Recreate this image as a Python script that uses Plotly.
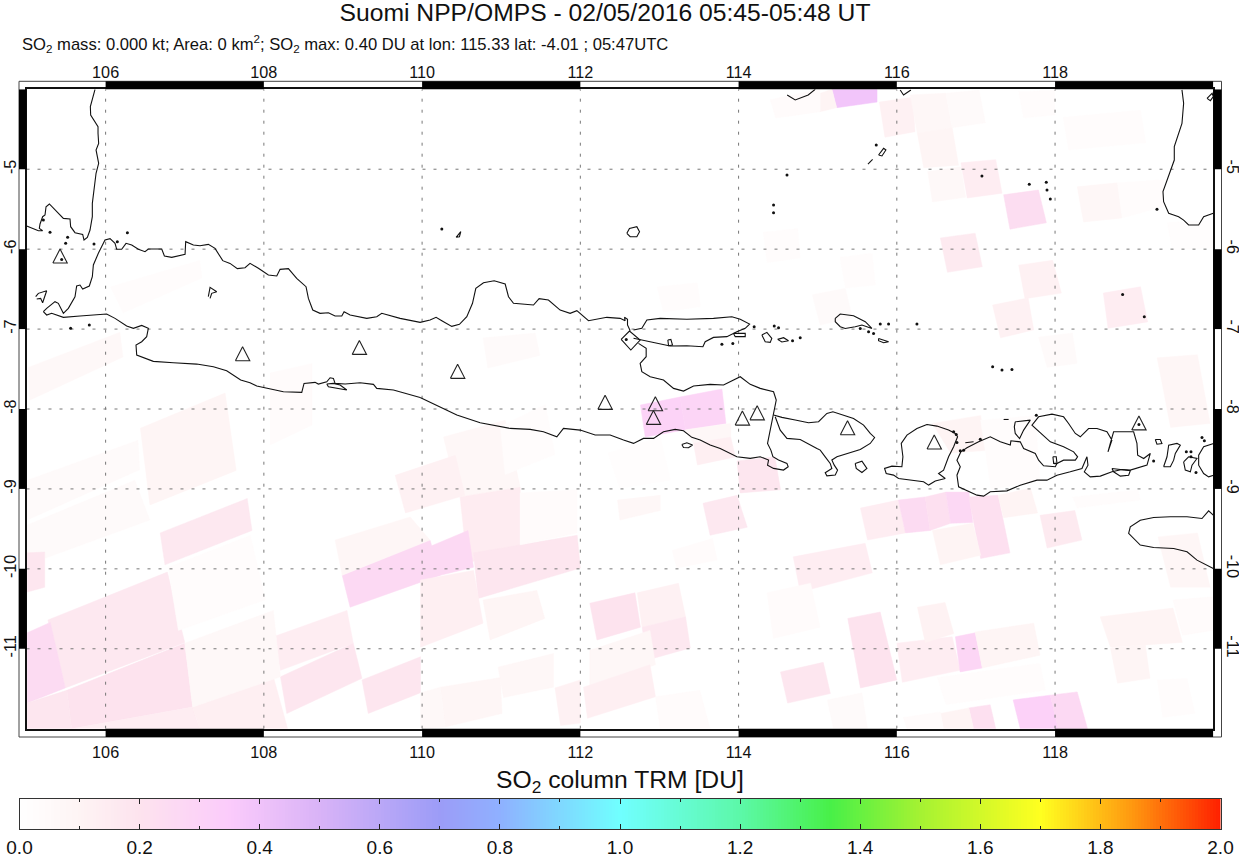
import numpy as np
import plotly.graph_objects as go
from plotly.colors import sample_colorscale

W, H = 1239, 855
FONT = "Liberation Sans"

lon_ticks = [106, 108, 110, 112, 114, 116, 118]
lat_ticks = [-5, -6, -7, -8, -9, -10, -11]
lat_labels = ["-5", "-6", "-7", "-8", "-9", "-10", "-11"]
bar_lon = [(106, 108), (110, 112), (114, 116), (118, 120)]
bar_lat = [(-5, -4), (-7, -6), (-9, -8), (-11, -10)]
so2_ticks = [0.0, 0.2, 0.4, 0.6, 0.8, 1.0, 1.2, 1.4, 1.6, 1.8, 2.0]

so2_scale = [
    [0.0, "rgb(255,255,255)"], [0.05, "rgb(254,244,244)"], [0.1, "rgb(253,227,238)"],
    [0.175, "rgb(251,203,251)"], [0.25, "rgb(217,179,247)"], [0.35, "rgb(156,156,247)"],
    [0.4, "rgb(143,176,255)"], [0.5, "rgb(112,255,255)"], [0.6, "rgb(92,248,168)"],
    [0.675, "rgb(72,240,72)"], [0.75, "rgb(165,242,50)"], [0.85, "rgb(255,255,32)"],
    [0.925, "rgb(255,154,16)"], [1.0, "rgb(255,32,0)"],
]

# retrieval footprints: corners in degrees, SO2 in DU
tile_lon = [
    [105.02,106.18,106.22,105.04],[106.06,107.19,107.22,106.22],[105.01,106.41,106.43,105.01],
    [106.44,107.51,107.65,106.56],[105.01,106.37,106.56,105.01],[106.69,107.79,107.85,106.75],
    [105.01,105.23,105.23,105.01],[105.27,106.78,107.00,105.49],[105.01,105.30,105.49,105.01],
    [105.51,107.00,107.10,105.57],[105.01,105.51,105.57,105.01],[105.57,107.10,107.19,105.57],
    [107.10,108.12,108.30,107.19],[108.12,109.05,109.13,108.21],[108.21,109.13,109.24,108.29],
    [109.24,109.98,109.98,109.32],[108.99,110.10,110.23,109.09],[108.90,109.85,110.10,108.99],
    [110.27,111.05,111.24,110.46],[110.48,111.24,111.24,110.57],[109.98,110.58,110.65,109.98],
    [110.65,111.96,112.00,110.71],[109.98,110.65,110.77,109.98],[110.77,111.45,111.55,110.86],
    [111.24,111.96,111.96,111.24],[112.12,112.69,112.76,112.21],[112.72,113.24,113.33,112.78],
    [112.78,113.33,113.39,112.85],[112.12,112.88,112.95,112.12],[112.04,112.88,112.95,112.09],
    [112.47,113.01,113.01,112.50],[113.55,113.98,114.11,113.64],[113.16,113.67,113.73,113.22],
    [114.69,115.60,115.69,114.78],[114.53,115.07,115.16,114.62],[114.36,114.91,115.03,114.44],
    [111.68,112.00,112.00,111.75],[110.23,110.99,111.01,110.29],[110.96,111.66,111.66,111.03],
    [109.66,110.42,110.54,109.79],[110.77,111.43,111.49,110.83],[110.99,111.56,111.68,111.05],
    [112.35,113.01,113.14,112.50],[112.76,113.26,113.33,112.82],[113.26,113.79,113.84,113.33],
    [113.33,113.90,113.90,113.43],[113.43,113.90,113.96,113.48],[113.98,114.46,114.53,114.02],
    [112.97,113.48,113.52,113.05],[114.31,114.75,114.78,114.36],[114.93,115.35,115.44,115.03],
    [115.18,115.75,115.75,115.24],[115.03,115.18,115.24,115.03],[114.40,115.03,115.03,114.47],
    [115.78,116.20,116.23,115.85],[116.17,116.62,116.70,116.26],[116.62,117.04,117.12,116.70],
    [116.26,116.70,116.78,116.34],[116.39,116.81,116.87,116.45],[116.81,117.25,117.33,116.89],
    [117.35,117.79,117.89,117.43],[116.55,116.99,117.08,116.64],[117.54,117.97,118.08,117.62],
    [118.61,119.08,119.17,118.67],[118.28,118.79,118.85,118.36],[118.79,119.37,119.37,118.85],
    [117.54,118.00,118.00,117.60],[118.10,119.08,119.15,118.17],[115.28,115.69,115.73,115.35],
    [119.42,119.96,120.00,119.48],[117.21,117.66,117.73,117.31],[117.79,118.22,118.28,117.90],
    [119.29,119.80,119.96,119.46],[115.54,116.02,116.11,115.63],[116.02,116.36,116.42,116.11],
    [116.36,116.62,116.68,116.42],[116.62,116.91,116.96,116.68],[116.91,117.28,117.43,117.06],
    [116.45,116.96,117.06,116.55],[117.28,117.69,117.78,117.35],[117.81,118.25,118.34,117.90],
    [119.30,119.80,119.96,119.46],[116.45,117.06,117.12,116.68],[117.06,117.75,117.81,117.19],
    [118.22,119.05,119.08,118.28],[115.38,115.79,116.00,115.54],[116.00,116.70,116.80,116.07],
    [116.74,116.99,117.08,116.80],[116.99,117.73,117.81,117.08],[116.26,116.61,116.72,116.36],
    [118.57,119.49,119.61,118.70],[118.70,119.14,119.20,118.79],[119.29,119.67,119.77,119.36],
    [117.47,117.94,118.04,117.56],[117.94,118.28,118.41,118.04],[116.91,117.18,117.25,116.97],
    [116.55,116.91,116.97,116.59],[116.08,116.55,116.59,116.13],[115.12,115.56,115.63,115.20],
    [116.51,117.81,117.88,116.62],[119.49,119.99,119.99,119.61],[106.79,107.83,108.02,106.92],
    [107.00,108.12,108.21,107.10],[108.08,108.61,108.61,108.08],[109.98,110.23,110.29,109.98],
    [112.95,113.51,113.64,113.01],
]
tile_lat = [
    [-7.48,-7.04,-7.35,-7.89],[-6.47,-6.14,-6.36,-6.80],[-8.89,-8.39,-8.76,-9.39],
    [-8.24,-7.80,-8.77,-9.20],[-9.45,-8.89,-9.39,-9.95],[-9.55,-9.12,-9.52,-9.95],
    [-9.80,-9.79,-10.23,-10.29],[-10.64,-10.04,-10.92,-11.49],[-10.80,-10.67,-11.49,-11.68],
    [-11.52,-10.93,-11.73,-12.00],[-11.68,-11.52,-12.00,-12.00],[-12.00,-11.73,-12.00,-12.00],
    [-11.73,-11.35,-12.00,-12.00],[-10.85,-10.52,-10.93,-11.27],[-11.35,-10.93,-11.37,-11.81],
    [-11.39,-11.10,-11.55,-11.81],[-10.08,-9.64,-10.08,-10.48],[-9.64,-9.35,-9.64,-10.08],
    [-8.35,-8.14,-8.98,-9.10],[-9.10,-8.98,-9.73,-9.93],[-9.77,-9.52,-9.98,-10.14],
    [-9.80,-9.58,-9.99,-10.37],[-10.14,-10.02,-10.68,-10.98],[-10.39,-10.27,-10.62,-10.89],
    [-9.05,-9.01,-9.55,-9.70],[-10.43,-10.30,-10.73,-10.89],[-10.30,-10.18,-10.60,-10.73],
    [-10.73,-10.60,-10.99,-11.14],[-11.02,-10.77,-11.20,-11.48],[-11.48,-11.20,-11.60,-11.87],
    [-9.14,-9.08,-9.27,-9.39],[-9.18,-9.08,-9.48,-9.58],[-9.77,-9.62,-9.89,-9.99],
    [-9.85,-9.68,-10.05,-10.29],[-11.29,-11.17,-11.56,-11.68],[-10.30,-10.18,-10.73,-10.87],
    [-11.49,-11.39,-11.93,-11.96],[-11.48,-11.36,-11.81,-11.98],[-11.23,-11.06,-11.48,-11.61],
    [-8.83,-8.58,-9.08,-9.30],[-7.11,-7.05,-7.33,-7.49],[-8.22,-7.94,-8.57,-8.82],
    [-8.55,-8.35,-8.89,-8.99],[-7.95,-7.85,-8.26,-8.35],[-7.85,-7.75,-8.18,-8.26],
    [-8.26,-8.18,-8.35,-8.43],[-8.43,-8.35,-8.60,-8.70],[-8.65,-8.60,-9.01,-9.05],
    [-6.47,-6.42,-6.72,-6.79],[-5.79,-5.74,-6.11,-6.17],[-6.57,-6.49,-6.86,-6.95],
    [-4.00,-4.00,-4.16,-4.23],[-4.05,-4.00,-4.23,-4.28],[-4.13,-4.00,-4.28,-4.36],
    [-4.16,-4.10,-4.53,-4.60],[-4.07,-4.05,-4.48,-4.55],[-4.05,-4.01,-4.42,-4.48],
    [-4.55,-4.48,-4.95,-4.98],[-5.03,-4.97,-5.35,-5.41],[-4.92,-4.88,-5.30,-5.36],
    [-5.32,-5.26,-5.67,-5.75],[-5.86,-5.80,-6.22,-6.29],[-6.20,-6.14,-6.55,-6.62],
    [-6.55,-6.47,-6.91,-6.99],[-5.22,-5.17,-5.61,-5.66],[-5.17,-5.13,-5.47,-5.61],
    [-4.03,-4.01,-4.32,-4.36],[-4.35,-4.26,-4.67,-4.76],[-6.10,-6.05,-6.45,-6.49],
    [-5.67,-5.64,-5.98,-6.01],[-6.70,-6.61,-7.01,-7.11],[-7.10,-7.05,-7.43,-7.48],
    [-7.36,-7.32,-8.18,-8.23],[-9.24,-9.14,-9.55,-9.64],[-9.14,-9.10,-9.52,-9.55],
    [-9.10,-9.04,-9.43,-9.52],[-9.04,-9.04,-9.42,-9.43],[-9.10,-9.08,-9.80,-9.87],
    [-9.52,-9.43,-9.83,-9.95],[-9.08,-8.99,-9.30,-9.36],[-9.33,-9.27,-9.64,-9.74],
    [-9.60,-9.55,-10.23,-10.23],[-8.18,-8.08,-8.52,-8.55],[-8.14,-8.08,-8.89,-9.01],
    [-9.10,-9.01,-9.14,-9.24],[-10.62,-10.54,-11.39,-11.49],[-10.93,-10.85,-11.27,-11.42],
    [-10.85,-10.80,-11.24,-11.29],[-10.79,-10.68,-11.08,-11.24],[-10.48,-10.42,-10.81,-10.92],
    [-10.60,-10.49,-10.92,-10.98],[-10.99,-10.95,-11.37,-11.43],[-11.39,-11.37,-11.81,-11.86],
    [-11.64,-11.58,-12.00,-12.00],[-11.58,-11.54,-12.00,-12.00],[-11.74,-11.70,-12.00,-12.00],
    [-11.81,-11.74,-12.00,-12.00],[-11.86,-11.79,-12.00,-12.00],[-11.64,-11.55,-12.00,-12.00],
    [-11.36,-11.18,-11.52,-11.70],[-10.39,-10.35,-10.77,-10.83],[-9.98,-9.58,-10.39,-10.77],
    [-10.93,-10.52,-11.35,-11.73],[-7.55,-7.43,-8.20,-8.45],[-11.55,-11.48,-11.98,-12.00],
    [-11.60,-11.52,-12.00,-12.00],
]
tile_so2 = [
    .06,.03,.05,.09,.05,.17,.18,.17,.25,.20,.18,.14,.13,.14,.18,.18,.26,.08,.07,.15,.26,
    .18,.13,.09,.04,.20,.12,.17,.07,.13,.07,.17,.04,.14,.18,.04,.12,.08,.07,.12,.05,.03,
    .02,.30,.29,.07,.13,.18,.03,.03,.05,.39,.10,.04,.12,.07,.05,.09,.06,.14,.24,.16,.12,
    .14,.07,.03,.03,.025,.03,.02,.12,.05,.08,.14,.25,.22,.27,.22,.10,.10,.16,.08,.10,.03,
    .03,.20,.14,.28,.09,.11,.10,.09,.03,.31,.26,.22,.10,.04,.05,.03,.04,.03,.06,.04,.06,.04,
]

volcano_lon = [105.424,107.731,109.207,110.449,112.313,112.948,112.924,114.048,114.235,115.377,116.473,119.060]
volcano_lat = [-6.086,-7.309,-7.229,-7.529,-7.917,-7.935,-8.105,-8.114,-8.048,-8.235,-8.412,-8.174]

sumatra = [(105.866,-4.000),(105.836,-4.113),(105.807,-4.217),(105.811,-4.321),(105.866,-4.405),(105.904,-4.467),
    (105.904,-4.551),(105.912,-4.676),(105.879,-4.759),(105.912,-4.926),(105.879,-5.051),(105.862,-5.218),
    (105.832,-5.427),(105.832,-5.594),(105.803,-5.761),(105.769,-5.852),(105.727,-5.886),(105.710,-5.815),
    (105.613,-5.794),(105.558,-5.719),(105.550,-5.623),(105.466,-5.615),(105.360,-5.510),(105.289,-5.435),
    (105.247,-5.469),(105.234,-5.573),(105.204,-5.594),(105.171,-5.685),(105.162,-5.740),(105.204,-5.769),
    (105.150,-5.769),(105.086,-5.740),(105.002,-5.711)]
java_north = [(105.213,-6.783),(105.255,-6.741),(105.360,-6.657),(105.402,-6.678),(105.466,-6.803),(105.529,-6.741),
    (105.613,-6.595),(105.634,-6.461),(105.676,-6.449),(105.710,-6.499),(105.794,-6.461),(105.832,-6.345),
    (105.845,-6.198),(105.908,-6.052),(105.992,-5.886),(106.056,-5.869),(106.119,-5.927),(106.140,-6.002),
    (106.203,-6.002),(106.258,-5.927),(106.330,-5.948),(106.414,-6.002),(106.498,-6.032),(106.540,-5.998),
    (106.709,-5.998),(106.743,-6.086),(106.835,-6.103),(107.004,-6.065),(107.012,-5.906),(107.109,-5.948),
    (107.193,-5.957),(107.298,-5.940),(107.383,-5.990),(107.480,-6.144),(107.572,-6.178),(107.665,-6.244),
    (107.762,-6.232),(107.825,-6.178),(107.931,-6.240),(108.057,-6.324),(108.163,-6.336),(108.205,-6.253),
    (108.310,-6.244),(108.415,-6.365),(108.533,-6.470),(108.563,-6.616),(108.618,-6.762),(108.710,-6.803),
    (108.816,-6.795),(108.900,-6.837),(108.985,-6.837),(109.014,-6.783),(109.090,-6.824),(109.300,-6.866),
    (109.427,-6.845),(109.490,-6.803),(109.722,-6.866),(109.975,-6.916),(110.101,-6.887),(110.177,-6.853),
    (110.249,-6.895),(110.375,-6.966),(110.472,-6.941),(110.565,-6.845),(110.637,-6.678),(110.679,-6.491),
    (110.776,-6.420),(110.911,-6.395),(111.050,-6.436),(111.092,-6.595),(111.155,-6.678),(111.408,-6.699),
    (111.479,-6.620),(111.597,-6.637),(111.745,-6.762),(111.871,-6.803),(111.956,-6.770),(112.019,-6.824),
    (112.103,-6.895),(112.335,-6.853),(112.503,-6.866),(112.567,-6.895),(112.558,-6.853),(112.596,-6.878),
    (112.596,-6.949),(112.630,-7.020)]
java_east = [(112.735,-7.179),(112.832,-7.241),(112.832,-7.346),(112.756,-7.429),(112.777,-7.533),(112.883,-7.596),
    (113.051,-7.638),(113.178,-7.742),(113.304,-7.776),(113.431,-7.713),(113.641,-7.692),(113.810,-7.700),
    (114.021,-7.596),(114.147,-7.692),(114.273,-7.742),(114.442,-7.784),(114.476,-7.888),(114.442,-8.055),
    (114.400,-8.222),(114.366,-8.430),(114.408,-8.514),(114.434,-8.597),(114.505,-8.639),(114.611,-8.681),
    (114.627,-8.723),(114.568,-8.764),(114.442,-8.743),(114.366,-8.702),(114.379,-8.639),(114.273,-8.597),
    (114.147,-8.618),(113.978,-8.597),(113.768,-8.493),(113.641,-8.451),(113.515,-8.389),(113.409,-8.355),
    (113.304,-8.272),(113.199,-8.255),(113.051,-8.284),(112.925,-8.368),(112.798,-8.368),(112.672,-8.430),
    (112.546,-8.389),(112.377,-8.326),(112.187,-8.326),(111.998,-8.264),(111.787,-8.243),(111.703,-8.347),
    (111.534,-8.284),(111.366,-8.255),(111.113,-8.243),(110.734,-8.172),(110.439,-8.076),(110.228,-7.972),
    (109.975,-7.855)]
java_south = [(105.213,-6.783),(105.255,-6.824),(105.318,-6.803),(105.466,-6.853),(105.676,-6.837),(105.887,-6.824),
    (106.013,-6.812),(106.119,-6.866),(106.266,-6.962),(106.351,-6.991),(106.456,-6.954),(106.540,-6.991),
    (106.519,-7.095),(106.456,-7.158),(106.384,-7.200),(106.393,-7.325),(106.477,-7.354),(106.603,-7.404),
    (106.856,-7.421),(107.151,-7.438),(107.362,-7.471),(107.530,-7.521),(107.707,-7.638),(107.825,-7.671),
    (107.910,-7.713),(108.036,-7.742),(108.247,-7.784),(108.479,-7.792),(108.508,-7.680),(108.647,-7.667),
    (108.689,-7.688),(108.795,-7.659),(108.837,-7.609),(108.879,-7.617),(108.900,-7.680),(109.027,-7.688),
    (109.217,-7.671),(109.385,-7.692),(109.427,-7.742),(109.638,-7.763),(109.975,-7.855)]
nusakambangan = [(108.795,-7.688),(108.816,-7.721),(109.048,-7.763),(108.964,-7.700),(108.879,-7.680),(108.795,-7.688)]
madura = [(112.672,-7.012),(112.777,-6.991),(112.841,-6.887),(113.009,-6.866),(113.346,-6.878),(113.683,-6.866),
    (113.915,-6.845),(114.021,-6.878),(114.139,-6.937),(114.084,-6.991),(113.978,-7.033),(113.852,-7.095),
    (113.683,-7.104),(113.578,-7.158),(113.549,-7.221),(113.346,-7.208),(113.135,-7.212),(112.925,-7.171),
    (112.756,-7.137),(112.672,-7.115)]
surabaya_box = [(112.516,-7.129),(112.621,-7.025),(112.756,-7.137),(112.638,-7.262),(112.516,-7.129)]
bali = [(114.442,-8.076),(114.547,-8.105),(114.716,-8.138),(114.884,-8.172),(115.011,-8.159),(115.116,-8.055),
    (115.192,-8.035),(115.327,-8.076),(115.453,-8.118),(115.580,-8.201),(115.664,-8.306),(115.719,-8.356),
    (115.664,-8.431),(115.538,-8.506),(115.369,-8.556),(115.243,-8.598),(115.179,-8.639),(115.209,-8.702),
    (115.251,-8.765),(115.222,-8.827),(115.116,-8.836),(115.095,-8.798),(115.179,-8.744),(115.158,-8.681),
    (115.095,-8.598),(115.032,-8.514),(114.990,-8.493),(114.779,-8.381),(114.611,-8.368),(114.526,-8.264),
    (114.463,-8.097)]
nusa_penida = [(115.474,-8.681),(115.559,-8.652),(115.622,-8.744),(115.559,-8.794),(115.487,-8.744),(115.474,-8.681)]
lombok = [(116.381,-8.193),(116.507,-8.214),(116.654,-8.264),(116.739,-8.306),(116.768,-8.348),(116.718,-8.473),
    (116.654,-8.598),(116.591,-8.765),(116.528,-8.806),(116.612,-8.869),(116.486,-8.902),(116.402,-8.952),
    (116.338,-8.911),(116.170,-8.890),(116.022,-8.869),(115.959,-8.827),(115.866,-8.806),(115.845,-8.744),
    (115.938,-8.715),(116.064,-8.723),(116.077,-8.598),(116.056,-8.431),(116.128,-8.327),(116.254,-8.243),
    (116.381,-8.193)]
sumbawa = [(116.810,-8.536),(116.886,-8.486),(117.034,-8.411),(117.181,-8.348),(117.308,-8.411),(117.434,-8.452),
    (117.442,-8.398),(117.560,-8.411),(117.603,-8.494),(117.750,-8.556),(117.792,-8.640),(117.855,-8.711),
    (118.003,-8.723),(118.024,-8.682),(118.108,-8.640),(118.256,-8.640),(118.285,-8.598),(118.235,-8.536),
    (118.108,-8.473),(117.940,-8.411),(117.708,-8.202),(117.792,-8.098),(117.961,-8.064),(118.108,-8.098),
    (118.171,-8.181),(118.256,-8.306),(118.319,-8.348),(118.424,-8.244),(118.530,-8.244),(118.656,-8.285),
    (118.719,-8.390),(118.669,-8.536),(118.698,-8.431),(118.740,-8.285),(118.993,-8.285),(119.035,-8.431),
    (119.044,-8.577),(119.120,-8.619),(119.204,-8.556),(119.162,-8.702),(119.035,-8.744),(118.951,-8.765),
    (118.846,-8.757),(118.719,-8.786),(118.572,-8.840),(118.445,-8.849),(118.370,-8.786),(118.416,-8.703),
    (118.403,-8.598),(118.340,-8.744),(118.192,-8.786),(118.024,-8.828),(117.897,-8.890),(117.771,-8.890),
    (117.560,-8.953),(117.392,-9.024),(117.181,-9.036),(117.097,-9.090),(117.013,-9.078),(116.886,-9.024),
    (116.781,-8.974),(116.760,-8.828),(116.802,-8.723),(116.760,-8.640),(116.810,-8.536)]
moyo = [(117.497,-8.160),(117.687,-8.139),(117.603,-8.264),(117.552,-8.369),(117.497,-8.306),(117.485,-8.223),(117.497,-8.160)]
waworada = [(118.719,-8.744),(118.846,-8.757),(118.951,-8.773),(118.930,-8.828),(118.825,-8.840),(118.740,-8.786),(118.719,-8.744)]
komodo = [(119.372,-8.723),(119.415,-8.598),(119.436,-8.452),(119.541,-8.431),(119.583,-8.452),(119.520,-8.556),(119.499,-8.640),(119.457,-8.723),(119.372,-8.723)]
rinca = [(119.625,-8.661),(119.688,-8.598),(119.794,-8.619),(119.731,-8.703),(119.710,-8.786),(119.646,-8.765),(119.625,-8.661)]
flores = [(120.004,-8.431),(119.878,-8.473),(119.815,-8.577),(119.815,-8.703),(119.878,-8.807),(119.941,-8.849),(120.004,-8.828)]
banta = [(119.267,-8.381),(119.330,-8.381),(119.351,-8.431),(119.288,-8.440),(119.267,-8.381)]
sumba = [(120.0,-9.328),(119.941,-9.274),(119.857,-9.370),(119.668,-9.349),(119.457,-9.349),(119.246,-9.357),(119.077,-9.391),
    (118.951,-9.474),(118.930,-9.557),(119.014,-9.641),(119.077,-9.703),(119.246,-9.733),(119.415,-9.745),
    (119.499,-9.745),(119.668,-9.787),(119.794,-9.891),(120.0,-9.995)]
kangean = [(115.222,-6.866),(115.285,-6.812),(115.453,-6.833),(115.601,-6.908),(115.685,-6.992),(115.559,-6.950),(115.474,-6.971),
    (115.348,-6.992),(115.285,-6.971),(115.222,-6.908),(115.222,-6.866)]
sulawesi = [(119.604,-4.008),(119.625,-4.175),(119.604,-4.426),(119.507,-4.718),(119.507,-4.885),(119.436,-5.093),(119.364,-5.281),
    (119.372,-5.406),(119.436,-5.552),(119.499,-5.573),(119.562,-5.594),(119.625,-5.636),(119.688,-5.698),
    (119.815,-5.698),(119.878,-5.594),(120.0,-5.552)]
kalimantan_a = [(114.614,-4.071),(114.716,-4.134),(114.880,-4.071),(114.969,-4.000)]
kalimantan_b = [(116.043,-4.008),(116.085,-4.071),(116.178,-4.008)]
small_islands = [
    [(113.106,-7.137),(113.144,-7.129),(113.165,-7.200),(113.115,-7.208),(113.106,-7.137)],
    [(113.936,-7.054),(114.084,-7.054),(114.084,-7.095),(113.958,-7.095),(113.936,-7.054)],
    [(114.294,-7.075),(114.358,-7.041),(114.420,-7.116),(114.400,-7.166),(114.337,-7.158),(114.294,-7.075)],
    [(114.493,-7.129),(114.569,-7.108),(114.631,-7.146),(114.547,-7.162),(114.493,-7.129)],
    [(113.283,-8.443),(113.346,-8.422),(113.418,-8.451),(113.367,-8.485),(113.304,-8.481),(113.283,-8.443)],
    [(112.588,-5.802),(112.621,-5.740),(112.714,-5.719),(112.748,-5.781),(112.714,-5.844),(112.630,-5.844),(112.588,-5.802)],
    [(110.430,-5.852),(110.489,-5.781),(110.472,-5.844),(110.430,-5.852)],
    [(105.116,-6.595),(105.150,-6.553),(105.255,-6.520),(105.234,-6.595),(105.204,-6.670),(105.179,-6.616),(105.129,-6.624)],
    [(107.298,-6.595),(107.320,-6.478),(107.404,-6.532),(107.341,-6.553),(107.320,-6.616)],
    [(115.769,-7.117),(115.896,-7.158),(115.833,-7.171),(115.769,-7.146),(115.769,-7.117)],
    [(115.769,-4.822),(115.833,-4.739),(115.862,-4.759),(115.812,-4.834),(115.769,-4.822)],
    [(115.635,-4.935),(115.694,-4.876)],
    [(116.865,-8.423),(116.970,-8.410)],
    [(117.350,-8.131),(117.413,-8.131)],
    [(119.921,-4.113),(119.985,-4.050),(120.0,-4.092),(119.963,-4.142),(119.921,-4.113)],
    [(117.973,-8.598),(118.015,-8.598),(118.024,-8.682),(117.982,-8.682),(117.973,-8.598)],
]
coast_lines = [sumatra, java_north, java_east, java_south, nusakambangan, madura, surabaya_box, bali, nusa_penida,
    lombok, sumbawa, moyo, waworada, komodo, rinca, flores, banta, sumba, kangean, sulawesi,
    kalimantan_a, kalimantan_b] + small_islands

islet_lon = [105.520,105.495,106.148,105.853,106.275,105.297,105.213,105.445,105.558,105.794,110.249,114.442,114.442,114.612,
    113.789,113.927,114.197,114.451,114.505,114.682,114.779,112.580,115.538,115.643,115.706,115.791,115.896,116.254,
    119.128,117.211,117.329,117.455,115.740,117.076,117.674,117.889,117.898,117.940,119.288,118.854,
    116.760,117.055,116.802,116.844,116.718,116.751,117.763,119.659,119.718,119.718,119.246,119.781,119.857,119.887,119.060]
islet_lat = [-5.852,-5.927,-5.907,-5.936,-5.794,-5.790,-5.635,-6.128,-6.991,-6.949,-5.748,-5.448,-5.544,-5.072,
    -7.191,-7.179,-6.970,-6.962,-6.983,-7.146,-7.108,-7.130,-6.992,-7.033,-7.054,-6.937,-6.937,-6.937,
    -6.846,-7.471,-7.513,-7.505,-4.697,-5.085,-5.189,-5.164,-5.260,-5.373,-5.502,-6.566,
    -8.419,-8.377,-8.523,-8.515,-8.285,-8.319,-8.077,-8.536,-8.536,-8.598,-8.652,-8.794,-8.356,-8.398,-8.195]

# plot geometry in page pixels
def px_x(p):
    return p / W

def px_y(p):
    return 1 - p / H

fig = go.Figure()

for lon, lat, val in zip(tile_lon, tile_lat, tile_so2):
    col = sample_colorscale(so2_scale, [val / 2])[0]
    fig.add_trace(go.Scatter(x=lon + lon[:1], y=lat + lat[:1], mode="lines", fill="toself", line=dict(width=0.5, color=col),
                             fillcolor=col, hoverinfo="skip", showlegend=False))

grid_x, grid_y = [], []
for lon in lon_ticks:
    grid_x += [lon, lon, None]
    grid_y += [-12, -4, None]
for lat in lat_ticks:
    grid_x += [105, 120, None]
    grid_y += [lat, lat, None]
fig.add_trace(go.Scatter(x=grid_x, y=grid_y, mode="lines", line=dict(color="#777777", width=1, dash="3px,8px"),
                         hoverinfo="skip", showlegend=False))

coast_x, coast_y = [], []
for line in coast_lines:
    coast_x += [p[0] for p in line] + [None]
    coast_y += [p[1] for p in line] + [None]
fig.add_trace(go.Scatter(x=coast_x, y=coast_y, xaxis="x2", yaxis="y2", mode="lines",
                         line=dict(color="#111111", width=1.1), hoverinfo="skip", showlegend=False))
fig.add_trace(go.Scatter(x=islet_lon, y=islet_lat, xaxis="x2", yaxis="y2", mode="markers",
                         marker=dict(symbol="circle", size=3, color="#111111"), hoverinfo="skip", showlegend=False))

tri_x, tri_y = [], []
for lon, lat in zip(volcano_lon, volcano_lat):
    tri_x += [lon - 0.091, lon, lon + 0.091, lon - 0.091, None]
    tri_y += [lat - 0.0876, lat + 0.0876, lat - 0.0876, lat - 0.0876, None]
fig.add_trace(go.Scatter(x=tri_x, y=tri_y, xaxis="x2", yaxis="y2", mode="lines",
                         line=dict(color="#222222", width=1.1), hoverinfo="skip", showlegend=False))

so2_levels = np.linspace(0, 2, 401)
fig.add_trace(go.Heatmap(x=so2_levels, y=[0, 1], z=[so2_levels, so2_levels], xaxis="x3", yaxis="y3",
                         colorscale=so2_scale, zmin=0, zmax=2, showscale=False, hoverinfo="skip"))

shapes = [dict(type="rect", xref="paper", yref="paper", x0=px_x(19), x1=px_x(1221.5), y0=px_y(737), y1=px_y(81.3),
               line=dict(color="#444444", width=1), layer="above")]
for a, b in bar_lon:
    for y0, y1 in [(737, 728.7), (89.3, 81.3)]:
        shapes.append(dict(type="rect", xref="x", yref="paper", x0=a, x1=b, y0=px_y(y0), y1=px_y(y1),
                           fillcolor="black", line=dict(width=0), layer="above"))
for a, b in bar_lat:
    for x0, x1 in [(19, 26.5), (1213.3, 1221.5)]:
        shapes.append(dict(type="rect", xref="paper", yref="y", x0=px_x(x0), x1=px_x(x1), y0=a, y1=b,
                           fillcolor="black", line=dict(width=0), layer="above"))

map_x = [px_x(26.5), px_x(1213.3)]
map_y = [px_y(728.7), px_y(89.3)]
tick_font = dict(family=FONT, size=16.2, color="#111111")

fig.update_layout(
    template="none", width=W, height=H, autosize=False, margin=dict(l=0, r=0, t=0, b=0, pad=0),
    paper_bgcolor="white", plot_bgcolor="white", font=dict(family=FONT, color="#111111"), shapes=shapes,
    title=dict(text="Suomi NPP/OMPS - 02/05/2016 05:45-05:48 UT", x=605 / W, y=px_y(12), xanchor="center",
               yanchor="middle", font=dict(family=FONT, size=24.7, color="#111111")),
    xaxis=dict(domain=map_x, range=[105, 120], tickvals=lon_ticks, ticks="", ticklabelstandoff=8, tickfont=tick_font,
               showgrid=False, zeroline=False, showline=True, mirror=True, linecolor="#111111", linewidth=1.5, anchor="y",
               automargin=False),
    yaxis=dict(domain=map_y, range=[-12, -4], tickvals=lat_ticks, ticktext=lat_labels, ticks="", ticklabelstandoff=2,
               tickangle=-90, tickfont=tick_font, showgrid=False, zeroline=False, showline=True, mirror=True,
               linecolor="#111111", linewidth=1.5, anchor="x", automargin=False),
    xaxis2=dict(domain=map_x, range=[105, 120], tickvals=lon_ticks, side="top", overlaying="x", anchor="y2", ticks="",
                ticklabelstandoff=7, tickfont=tick_font, showgrid=False, zeroline=False, automargin=False),
    yaxis2=dict(domain=map_y, range=[-12, -4], tickvals=lat_ticks, ticktext=lat_labels, side="right", overlaying="y",
                anchor="x2", ticks="", ticklabelstandoff=9, tickangle=90, tickfont=tick_font, showgrid=False, zeroline=False,
                automargin=False),
    xaxis3=dict(domain=[px_x(19.5), px_x(1220.5)], range=[0, 2], tickvals=so2_ticks, tickformat=".1f", ticks="inside",
                ticklen=5, tickcolor="#222222", mirror="allticks", showline=True, linecolor="#333333", linewidth=1,
                ticklabelstandoff=1, tickfont=dict(family=FONT, size=19, color="#111111"), showgrid=False, zeroline=False,
                anchor="y3", automargin=False, minor=dict(dtick=0.1, ticks="inside", ticklen=3, tickcolor="#222222")),
    yaxis3=dict(domain=[px_y(829), px_y(799)], range=[0, 1], showticklabels=False, ticks="", showline=True, mirror=True,
                linecolor="#333333", linewidth=1, showgrid=False, zeroline=False, anchor="x3", automargin=False),
    annotations=[
        dict(text="SO<sub>2</sub> mass: 0.000 kt; Area: 0 km<sup>2</sup>; SO<sub>2</sub> max: 0.40 DU at lon: 115.33 lat: -4.01 ; 05:47UTC",
             xref="paper", yref="paper", x=px_x(20), y=px_y(44), xanchor="left", yanchor="middle", showarrow=False,
             font=dict(family=FONT, size=16.6, color="#111111")),
        dict(text="SO<sub>2</sub> column TRM [DU]", xref="paper", yref="paper", x=px_x(620), y=px_y(781), xanchor="center",
             yanchor="middle", showarrow=False, font=dict(family=FONT, size=24.7, color="#111111")),
    ],
)

fig.write_html("out.html", config={"displayModeBar": False},
               post_script="document.body.style.margin='0';document.body.style.overflow='hidden';")
